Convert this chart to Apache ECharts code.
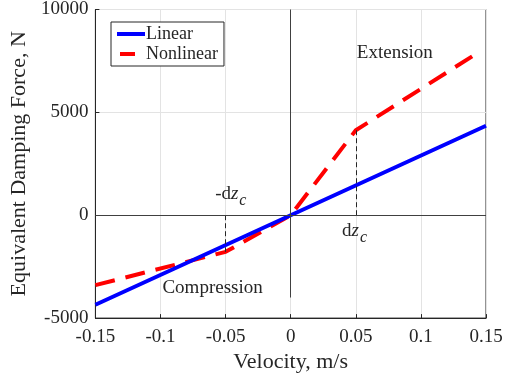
<!DOCTYPE html>
<html>
<head>
<meta charset="utf-8">
<script src="https://cdn.jsdelivr.net/npm/echarts@6/dist/echarts.min.js"></script>
<style>
  html, body { margin: 0; padding: 0; background: #ffffff; }
  #chart { width: 512px; height: 378px; }
</style>
</head>
<body>
<div id="chart"></div>
<script>
  // chart data
  const linearVelocity = [-0.15, 0, 0.15];
  const linearForce = [-4350, 0, 4350];
  const nonlinearVelocity = [-0.15, -0.05, 0, 0.05, 0.14];
  const nonlinearForce = [-3400, -1780, 0, 4130, 7750];
  const xTicks = [-0.15, -0.1, -0.05, 0, 0.05, 0.1, 0.15];
  const yTicks = [-5000, 0, 5000, 10000];
  const dzc = 0.05;

  const font = '"Liberation Serif", "Times New Roman", serif';
  const textColor = '#262626';

  let dom = document.getElementById('chart');
  let myChart = echarts.init(dom);

  const pair = (xs, ys) => xs.map((x, i) => [x, ys[i]]);
  const forceAt = v => nonlinearForce[nonlinearVelocity.indexOf(v)];

  const option = {
    animation: false,
    textStyle: { fontFamily: font, color: textColor },
    grid: {
      left: 93, right: 26, top: 8, bottom: 58,
      show: true, borderColor: '#262626', borderWidth: 1
    },
    legend: {
      orient: 'vertical',
      left: 111, top: 22,
      backgroundColor: '#ffffff',
      borderColor: '#262626', borderWidth: 1,
      padding: [3, 6, 3, 4],
      itemGap: 2,
      itemWidth: 28, itemHeight: 12,
      itemStyle: { opacity: 0 },
      textStyle: { fontFamily: font, fontSize: 18, color: textColor, padding: [0, 0, 0, -4] },
      data: [
        { name: 'Linear', lineStyle: { width: 4, color: '#0000ff' } },
        { name: 'Nonlinear', lineStyle: { width: 4, color: '#ff0000', type: [15, 30], dashOffset: 42 } }
      ]
    },
    xAxis: {
      type: 'value',
      min: xTicks[0], max: xTicks[xTicks.length - 1], interval: 0.05,
      name: 'Velocity, m/s', nameLocation: 'middle', nameGap: 30,
      nameTextStyle: { fontFamily: font, fontSize: 22, color: textColor },
      axisLine: { onZero: false, lineStyle: { color: '#262626' } },
      axisTick: { inside: true, length: 4, lineStyle: { color: '#262626' } },
      axisLabel: {
        margin: 9, fontFamily: font, fontSize: 19, color: textColor,
        formatter: v => String(+v.toFixed(2))
      },
      splitLine: { show: true, lineStyle: { color: '#e3e3e3', width: 1 } }
    },
    yAxis: {
      type: 'value',
      min: yTicks[0], max: yTicks[yTicks.length - 1], interval: 5000,
      name: 'Equivalent Damping Force, N', nameLocation: 'middle', nameGap: 55,
      nameTextStyle: { fontFamily: font, fontSize: 22, color: textColor },
      axisLine: { onZero: false, lineStyle: { color: '#262626' } },
      axisTick: { inside: true, length: 4, lineStyle: { color: '#262626' } },
      axisLabel: { margin: 7, fontFamily: font, fontSize: 19, color: textColor, formatter: v => String(v) },
      splitLine: { show: true, lineStyle: { color: '#e3e3e3', width: 1 } }
    },
    series: [
      {
        name: 'Nonlinear',
        type: 'line',
        z: 3,
        showSymbol: false,
        symbol: 'none',
        data: pair(nonlinearVelocity, nonlinearForce),
        lineStyle: { color: '#ff0000', width: 4, type: [20, 11] },
        itemStyle: { color: '#ff0000' },
        markLine: {
          silent: true,
          symbol: 'none',
          label: { show: false },
          lineStyle: { color: '#262626', width: 1, type: [5, 3] },
          data: [
            [{ coord: [-dzc, 0] }, { coord: [-dzc, forceAt(-dzc)] }],
            [{ coord: [dzc, 0] }, { coord: [dzc, forceAt(dzc)] }]
          ]
        }
      },
      {
        name: 'Linear',
        type: 'line',
        z: 4,
        showSymbol: false,
        symbol: 'none',
        data: pair(linearVelocity, linearForce),
        lineStyle: { color: '#0000ff', width: 4 },
        itemStyle: { color: '#0000ff' }
      },
      {
        // zero axes and annotations
        name: 'axes',
        type: 'line',
        z: 2,
        data: [],
        markLine: {
          silent: true,
          symbol: 'none',
          label: { show: false },
          lineStyle: { color: '#404040', width: 1, type: 'solid' },
          data: [
            [{ coord: [xTicks[0], 0] }, { coord: [xTicks[xTicks.length - 1], 0] }],
            [{ coord: [0, -4000] }, { coord: [0, 10000] }]
          ]
        },
        markPoint: {
          silent: true,
          symbol: 'circle',
          symbolSize: 0,
          label: {
            show: true,
            fontFamily: font, fontSize: 19, color: textColor,
            rich: {
              n: { fontFamily: font, fontSize: 19, color: textColor },
              i: { fontFamily: font, fontSize: 19, fontStyle: 'italic', color: textColor },
              s: { fontFamily: font, fontSize: 16, fontStyle: 'italic', color: textColor, padding: [15, 0, 0, 1] }
            }
          },
          data: [
            { coord: [0.08, 7900], label: { formatter: 'Extension' } },
            { coord: [-0.06, -3550], label: { formatter: 'Compression' } },
            { coord: [-0.046, 1050], label: { formatter: '{n|-d}{i|z}{s|c}' } },
            { coord: [0.049, -750], label: { formatter: '{n|d}{i|z}{s|c}' } }
          ]
        }
      }
    ]
  };

  myChart.setOption(option, true);
  window.addEventListener('resize', function () {
    myChart.resize();
  });
</script>
</body>
</html>
